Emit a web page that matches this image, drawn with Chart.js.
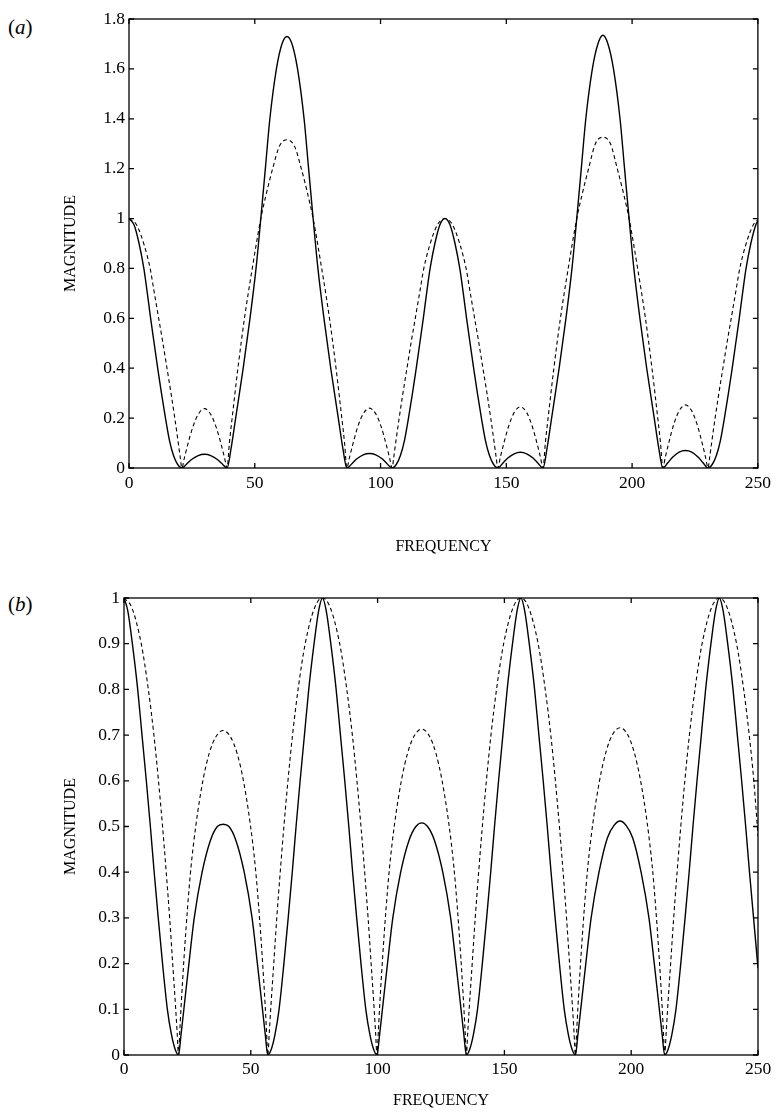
<!DOCTYPE html>
<html>
<head>
<meta charset="utf-8">
<title>Magnitude vs frequency</title>
<script src="https://cdn.jsdelivr.net/npm/chart.js@4.4.1/dist/chart.umd.min.js"></script>
<style>
  body { margin: 0; background: #fff; width: 776px; height: 1115px; position: relative; overflow: hidden; }
  canvas { position: absolute; left: 0; }
  #chartA { top: 0; }
  #chartB { top: 575px; }
  .tag { position: absolute; left: 8px; font-family: "Liberation Serif", serif; font-size: 21px; line-height: 24px; color: #000; }
</style>
</head>
<body>
<div class="tag" style="top:15px">(<i>a</i>)</div>
<div class="tag" style="top:592px">(<i>b</i>)</div>
<canvas id="chartA" width="776" height="575"></canvas>
<canvas id="chartB" width="776" height="540"></canvas>
<script>
// axis ticks
const xTickValues = [0, 50, 100, 150, 200, 250];
const xTickLabels = ['0', '50', '100', '150', '200', '250'];
const yTickValuesA = [0, 0.2, 0.4, 0.6, 0.8, 1, 1.2, 1.4, 1.6, 1.8];
const yTickLabelsA = ['0', '0.2', '0.4', '0.6', '0.8', '1', '1.2', '1.4', '1.6', '1.8'];
const yTickValuesB = [0, 0.1, 0.2, 0.3, 0.4, 0.5, 0.6, 0.7, 0.8, 0.9, 1];
const yTickLabelsB = ['0', '0.1', '0.2', '0.3', '0.4', '0.5', '0.6', '0.7', '0.8', '0.9', '1'];

// (a) solid curve
const freqSolidA = [
  0, 2, 4, 5.9, 7.3, 8.6, 10, 11.4, 12.9, 14.5, 16.1, 17.7, 19.3, 21,
  23, 25, 27.5, 30, 32.5, 35, 37, 39,
  40.6, 42.4, 45.4, 48.1, 50.5, 52.4, 54.2, 56, 58.6, 60.8, 62.8, 64.8, 67, 69.6, 71.4, 73.2, 75.1, 77.5, 80.2, 83.2, 85, 86.6,
  88.6, 90.6, 93.1, 95.6, 98.1, 100.6, 102.6, 104.6,
  106.3, 107.9, 109.5, 111.1, 112.7, 114.2, 115.6, 117, 118.3, 119.7, 121.6, 123.6, 125.6,
  127.6, 129.6, 131.5, 132.9, 134.2, 135.6, 137, 138.5, 140.1, 141.7, 143.3, 144.9, 146.6,
  148.6, 150.6, 153.1, 155.6, 158.1, 160.6, 162.6, 164.6,
  166.2, 168, 171, 173.7, 176.1, 178, 179.8, 181.6, 184.2, 186.4, 188.4, 190.4, 192.6, 195.2, 197, 198.8, 200.7, 203.1, 205.8, 208.8, 210.6, 212.2,
  214.2, 216.2, 218.7, 221.2, 223.7, 226.2, 228.2, 230.2,
  231.9, 233.5, 235.1, 236.7, 238.3, 239.8, 241.2, 242.6, 243.9, 245.3, 247.2, 249.2, 250
];
const magSolidA = [
  1, 0.975, 0.9, 0.8, 0.7, 0.6, 0.5, 0.4, 0.3, 0.2, 0.11, 0.05, 0.015, 0,
  0.017, 0.035, 0.05, 0.055, 0.05, 0.035, 0.017, 0,
  0.08, 0.2, 0.4, 0.6, 0.8, 1, 1.2, 1.4, 1.6, 1.7, 1.73, 1.7, 1.6, 1.4, 1.2, 1, 0.8, 0.6, 0.4, 0.2, 0.08, 0,
  0.017, 0.037, 0.053, 0.058, 0.053, 0.037, 0.017, 0,
  0.015, 0.05, 0.11, 0.2, 0.3, 0.4, 0.5, 0.6, 0.7, 0.8, 0.9, 0.975, 1,
  0.975, 0.9, 0.8, 0.7, 0.6, 0.5, 0.4, 0.3, 0.2, 0.11, 0.05, 0.015, 0,
  0.019, 0.04, 0.057, 0.063, 0.057, 0.04, 0.019, 0,
  0.08, 0.2, 0.4, 0.6, 0.8, 1, 1.2, 1.4, 1.6, 1.7, 1.735, 1.7, 1.6, 1.4, 1.2, 1, 0.8, 0.6, 0.4, 0.2, 0.08, 0,
  0.021, 0.044, 0.064, 0.07, 0.064, 0.044, 0.021, 0,
  0.015, 0.05, 0.11, 0.2, 0.3, 0.4, 0.5, 0.6, 0.7, 0.8, 0.9, 0.975, 0.99
];

// (a) dashed curve
const freqDashedA = [
  0, 3, 6, 8.4, 10.1, 11.8, 13.5, 15.1, 16.7, 18.2, 19.6, 20.4, 21,
  22, 23.5, 25.5, 27.5, 30, 32.5, 34.5, 36.5, 38, 39,
  39.9, 41, 43.3, 45.9, 49, 52.4, 54.6, 57.1, 59.8, 62.8, 65.8, 68.5, 71, 73.2, 76.6, 79.7, 82.3, 84.6, 85.7, 86.6,
  87.6, 89.1, 91.1, 93.1, 95.6, 98.1, 100.1, 102.1, 103.6, 104.6,
  105.2, 106, 107.4, 108.9, 110.5, 112.1, 113.8, 115.5, 117.2, 119.6, 122.6, 125.6,
  128.6, 131.6, 134, 135.7, 137.4, 139.1, 140.7, 142.3, 143.8, 145.2, 146, 146.6,
  147.6, 149.1, 151.1, 153.1, 155.6, 158.1, 160.1, 162.1, 163.6, 164.6,
  165.5, 166.6, 168.9, 171.5, 174.6, 178, 180.2, 182.7, 185.4, 188.4, 191.4, 194.1, 196.6, 198.8, 202.2, 205.3, 207.9, 210.2, 211.3, 212.2,
  213.2, 214.7, 216.7, 218.7, 221.2, 223.7, 225.7, 227.7, 229.2, 230.2,
  230.8, 231.6, 233, 234.5, 236.1, 237.7, 239.4, 241.1, 242.8, 245.2, 248.2, 250
];
const magDashedA = [
  1, 0.975, 0.895, 0.8, 0.7, 0.6, 0.5, 0.4, 0.3, 0.2, 0.1, 0.04, 0,
  0.04, 0.1, 0.168, 0.215, 0.238, 0.215, 0.168, 0.1, 0.04, 0,
  0.1, 0.2, 0.4, 0.6, 0.8, 1, 1.1, 1.2, 1.29, 1.316, 1.29, 1.2, 1.1, 1, 0.8, 0.6, 0.4, 0.2, 0.1, 0,
  0.04, 0.1, 0.17, 0.217, 0.24, 0.217, 0.17, 0.1, 0.04, 0,
  0.04, 0.1, 0.2, 0.3, 0.4, 0.5, 0.6, 0.7, 0.8, 0.895, 0.975, 1,
  0.975, 0.895, 0.8, 0.7, 0.6, 0.5, 0.4, 0.3, 0.2, 0.1, 0.04, 0,
  0.042, 0.103, 0.173, 0.222, 0.245, 0.222, 0.173, 0.103, 0.042, 0,
  0.1, 0.2, 0.4, 0.6, 0.8, 1, 1.1, 1.2, 1.3, 1.326, 1.3, 1.2, 1.1, 1, 0.8, 0.6, 0.4, 0.2, 0.1, 0,
  0.043, 0.106, 0.179, 0.229, 0.253, 0.229, 0.179, 0.106, 0.043, 0,
  0.04, 0.1, 0.2, 0.3, 0.4, 0.5, 0.6, 0.7, 0.8, 0.895, 0.975, 0.995
];

// (b) solid curve
const freqSolidB = [
  0, 1.5, 3.3, 5.4, 7.1, 8.8, 10.4, 11.9, 13.5, 15.2, 17.1, 18.7, 20.2, 21.5,
  22.5, 23.6, 25.6, 27.7, 30.8, 34.1, 36.8, 39.1, 41.4, 44.1, 47.4, 50.5, 52.6, 54.6, 55.7, 56.7,
  58.05, 59.55, 61.15, 63.05, 64.75, 66.35, 67.85, 69.45, 71.15, 72.85, 74.95, 76.75, 78.25,
  79.75, 81.55, 83.65, 85.35, 87.05, 88.65, 90.15, 91.75, 93.45, 95.35, 96.95, 98.45, 99.75,
  100.8, 101.9, 103.9, 106, 109.1, 112.4, 115.1, 117.4, 119.7, 122.4, 125.7, 128.8, 130.9, 132.9, 134, 135,
  136.3, 137.8, 139.4, 141.3, 143, 144.6, 146.1, 147.7, 149.4, 151.1, 153.2, 155, 156.5,
  158, 159.8, 161.9, 163.6, 165.3, 166.9, 168.4, 170, 171.7, 173.6, 175.2, 176.7, 178,
  179, 180.1, 182.1, 184.2, 187.3, 190.6, 193.3, 195.6, 197.9, 200.6, 203.9, 207, 209.1, 211.1, 212.2, 213.2,
  214.55, 216.05, 217.65, 219.55, 221.25, 222.85, 224.35, 225.95, 227.65, 229.35, 231.45, 233.25, 234.75,
  236.25, 238.05, 240.15, 241.85, 243.55, 245.15, 246.65, 248.25, 250
];
const magSolidB = [
  1, 0.972, 0.9, 0.8, 0.7, 0.6, 0.5, 0.4, 0.3, 0.2, 0.1, 0.045, 0.012, 0,
  0.045, 0.1, 0.2, 0.3, 0.4, 0.47, 0.5, 0.505, 0.5, 0.47, 0.4, 0.3, 0.2, 0.1, 0.045, 0,
  0.012, 0.045, 0.1, 0.2, 0.3, 0.4, 0.5, 0.6, 0.7, 0.8, 0.9, 0.972, 1,
  0.972, 0.9, 0.8, 0.7, 0.6, 0.5, 0.4, 0.3, 0.2, 0.1, 0.045, 0.012, 0,
  0.045, 0.1, 0.2, 0.3, 0.4, 0.47, 0.5, 0.508, 0.5, 0.47, 0.4, 0.3, 0.2, 0.1, 0.045, 0,
  0.012, 0.045, 0.1, 0.2, 0.3, 0.4, 0.5, 0.6, 0.7, 0.8, 0.9, 0.972, 1,
  0.972, 0.9, 0.8, 0.7, 0.6, 0.5, 0.4, 0.3, 0.2, 0.1, 0.045, 0.012, 0,
  0.045, 0.1, 0.2, 0.3, 0.4, 0.475, 0.503, 0.512, 0.503, 0.475, 0.4, 0.3, 0.2, 0.1, 0.045, 0,
  0.012, 0.045, 0.1, 0.2, 0.3, 0.4, 0.5, 0.6, 0.7, 0.8, 0.9, 0.972, 1,
  0.972, 0.9, 0.8, 0.7, 0.6, 0.5, 0.4, 0.3, 0.19
];

// (b) dashed curve
const freqDashedB = [
  0, 3, 6.8, 9.6, 11.8, 13.6, 15.2, 16.65, 18, 19.2, 20.4, 20.95, 21.5,
  22, 22.5, 23.7, 25.1, 26.4, 28.4, 31.1, 33.6, 36.1, 39.1, 42.1, 44.6, 47.1, 49.8, 51.8, 53.1, 54.5, 55.7, 56.2, 56.7,
  57.3, 57.85, 59.05, 60.25, 61.6, 63.05, 64.65, 66.45, 68.65, 71.45, 75.25, 78.25,
  81.25, 85.05, 87.85, 90.05, 91.85, 93.45, 94.9, 96.25, 97.45, 98.65, 99.2, 99.75,
  100.3, 100.8, 102, 103.4, 104.7, 106.7, 109.4, 111.9, 114.4, 117.4, 120.4, 122.9, 125.4, 128.1, 130.1, 131.4, 132.8, 134, 134.5, 135,
  135.55, 136.1, 137.3, 138.5, 139.85, 141.3, 142.9, 144.7, 146.9, 149.7, 153.5, 156.5,
  159.5, 163.3, 166.1, 168.3, 170.1, 171.7, 173.15, 174.5, 175.7, 176.9, 177.45, 178,
  178.5, 179, 180.2, 181.6, 182.9, 184.9, 187.6, 190.1, 192.6, 195.6, 198.6, 201.1, 203.6, 206.3, 208.3, 209.6, 211, 212.2, 212.7, 213.2,
  213.8, 214.35, 215.55, 216.75, 218.1, 219.55, 221.15, 222.95, 225.15, 227.95, 231.75, 234.75,
  237.75, 241.55, 244.35, 246.55, 248.35, 250
];
const magDashedB = [
  1, 0.98, 0.9, 0.8, 0.7, 0.6, 0.5, 0.4, 0.3, 0.2, 0.1, 0.05, 0,
  0.052, 0.105, 0.215, 0.325, 0.41, 0.505, 0.6, 0.66, 0.695, 0.71, 0.695, 0.66, 0.6, 0.505, 0.41, 0.325, 0.215, 0.105, 0.052, 0,
  0.05, 0.1, 0.2, 0.3, 0.4, 0.5, 0.6, 0.7, 0.8, 0.9, 0.98, 1,
  0.98, 0.9, 0.8, 0.7, 0.6, 0.5, 0.4, 0.3, 0.2, 0.1, 0.05, 0,
  0.052, 0.105, 0.215, 0.325, 0.41, 0.506, 0.601, 0.662, 0.698, 0.713, 0.698, 0.662, 0.601, 0.506, 0.41, 0.325, 0.215, 0.105, 0.052, 0,
  0.05, 0.1, 0.2, 0.3, 0.4, 0.5, 0.6, 0.7, 0.8, 0.9, 0.98, 1,
  0.98, 0.9, 0.8, 0.7, 0.6, 0.5, 0.4, 0.3, 0.2, 0.1, 0.05, 0,
  0.052, 0.105, 0.216, 0.327, 0.412, 0.508, 0.603, 0.664, 0.701, 0.716, 0.701, 0.664, 0.603, 0.508, 0.412, 0.327, 0.216, 0.105, 0.052, 0,
  0.05, 0.1, 0.2, 0.3, 0.4, 0.5, 0.6, 0.7, 0.8, 0.9, 0.98, 1,
  0.98, 0.9, 0.8, 0.7, 0.6, 0.48
];

Chart.defaults.font.family = "'Liberation Serif', 'Times New Roman', serif";
Chart.defaults.color = '#000';

// box around the plot plus short inward ticks on all four sides
const frameTicks = {
  id: 'frameTicks',
  afterDatasetsDraw(chart) {
    const { ctx, chartArea: a, scales: { x, y } } = chart;
    const len = 5;
    ctx.save();
    ctx.strokeStyle = '#000';
    ctx.lineWidth = 1.3;
    ctx.strokeRect(a.left, a.top, a.right - a.left, a.bottom - a.top);
    ctx.beginPath();
    x.ticks.forEach(t => {
      const px = x.getPixelForValue(t.value);
      ctx.moveTo(px, a.bottom); ctx.lineTo(px, a.bottom - len);
      ctx.moveTo(px, a.top); ctx.lineTo(px, a.top + len);
    });
    y.ticks.forEach(t => {
      const py = y.getPixelForValue(t.value);
      ctx.moveTo(a.left, py); ctx.lineTo(a.left + len, py);
      ctx.moveTo(a.right, py); ctx.lineTo(a.right - len, py);
    });
    ctx.stroke();
    ctx.restore();
  }
};

function toPoints(xs, ys) {
  return xs.map((x, i) => ({ x: x, y: ys[i] }));
}

function makeChart(id, p) {
  const ctx = document.getElementById(id).getContext('2d');
  return new Chart(ctx, {
    type: 'line',
    data: {
      datasets: [
        {
          label: 'solid',
          data: toPoints(p.solidX, p.solidY),
          borderColor: '#000',
          borderWidth: 1.4,
          pointRadius: 0,
          cubicInterpolationMode: 'monotone'
        },
        {
          label: 'dashed',
          data: toPoints(p.dashX, p.dashY),
          borderColor: '#000',
          borderWidth: 1.1,
          borderDash: [4, 3],
          pointRadius: 0,
          cubicInterpolationMode: 'monotone'
        }
      ]
    },
    options: {
      responsive: false,
      animation: false,
      layout: { padding: p.padding },
      plugins: { legend: { display: false }, tooltip: { enabled: false } },
      scales: {
        x: {
          type: 'linear',
          min: 0,
          max: 250,
          grid: { display: false, drawTicks: false },
          border: { display: false },
          afterBuildTicks: s => { s.ticks = xTickValues.map(v => ({ value: v })); },
          afterFit: s => { s.height = p.xHeight; },
          ticks: {
            padding: p.xTickPad,
            maxRotation: 0,
            font: { size: 17.5 },
            callback: (v, i) => xTickLabels[i]
          },
          title: {
            display: true,
            text: 'FREQUENCY',
            font: { size: 16 },
            padding: { top: 0, bottom: p.xTitlePad }
          }
        },
        y: {
          min: 0,
          max: p.yMax,
          grid: { display: false, drawTicks: false },
          border: { display: false },
          afterBuildTicks: s => { s.ticks = p.yTicks.map(v => ({ value: v })); },
          afterFit: s => { s.width = p.yWidth; },
          ticks: {
            padding: 4,
            font: { size: 17.5 },
            callback: (v, i) => p.yLabels[i]
          },
          title: {
            display: true,
            text: 'MAGNITUDE',
            font: { size: 16 },
            padding: { top: 61, bottom: 0 }
          }
        }
      }
    },
    plugins: [frameTicks]
  });
}

makeChart('chartA', {
  solidX: freqSolidA, solidY: magSolidA,
  dashX: freqDashedA, dashY: magDashedA,
  yMax: 1.8, yTicks: yTickValuesA, yLabels: yTickLabelsA,
  padding: { top: 19, right: 13, bottom: 0, left: 0 },
  yWidth: 129, xHeight: 107, xTickPad: 5, xTitlePad: 19
});

makeChart('chartB', {
  solidX: freqSolidB, solidY: magSolidB,
  dashX: freqDashedB, dashY: magDashedB,
  yMax: 1, yTicks: yTickValuesB, yLabels: yTickLabelsB,
  padding: { top: 23, right: 18, bottom: 0, left: 0 },
  yWidth: 124, xHeight: 60, xTickPad: 4, xTitlePad: 5
});
</script>
</body>
</html>
